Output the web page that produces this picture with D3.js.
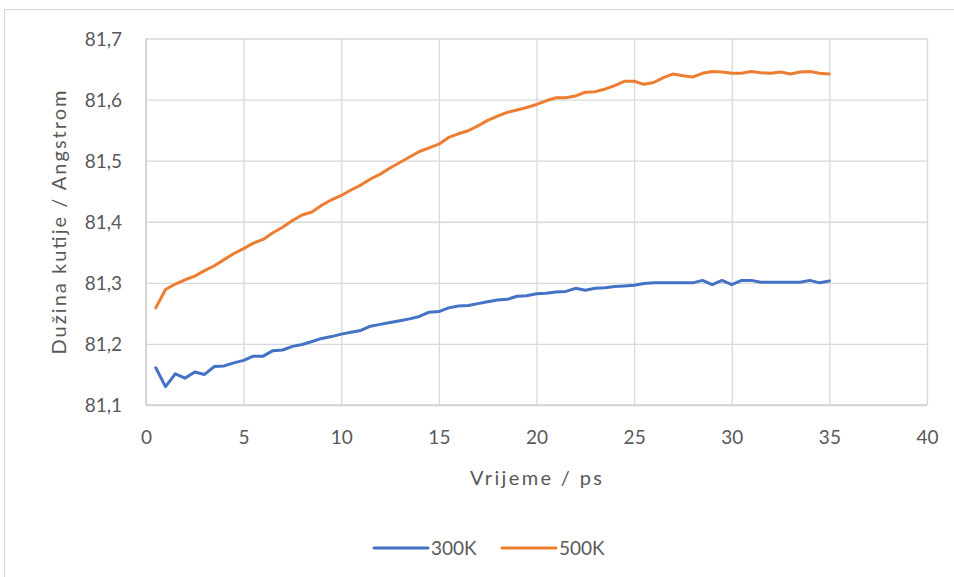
<!DOCTYPE html>
<html>
<head>
<meta charset="utf-8">
<script src="https://cdn.jsdelivr.net/npm/d3@7"></script>
<style>
  html, body { margin: 0; padding: 0; background: #fff; }
  svg { display: block; }
  text { font-family: Lato, "Open Sans", sans-serif; fill: #595959; }
</style>
</head>
<body>
<svg id="chart" width="954" height="577"></svg>
<script>
const time = [0.5,1,1.5,2,2.5,3,3.5,4,4.5,5,5.5,6,6.5,7,7.5,8,8.5,9,9.5,10,
  10.5,11,11.5,12,12.5,13,13.5,14,14.5,15,15.5,16,16.5,17,17.5,18,18.5,19,19.5,20,
  20.5,21,21.5,22,22.5,23,23.5,24,24.5,25,25.5,26,26.5,27,27.5,28,28.5,29,29.5,30,
  30.5,31,31.5,32,32.5,33,33.5,34,34.5,35];

const series300K = [81.161,81.130,81.151,81.144,81.154,81.150,81.163,81.164,81.169,81.173,
  81.180,81.180,81.189,81.190,81.196,81.199,81.204,81.209,81.212,81.216,
  81.219,81.222,81.229,81.232,81.235,81.238,81.241,81.245,81.252,81.253,
  81.259,81.262,81.263,81.266,81.269,81.272,81.273,81.278,81.279,81.282,
  81.283,81.285,81.286,81.291,81.288,81.291,81.292,81.294,81.295,81.296,
  81.299,81.300,81.300,81.300,81.300,81.300,81.304,81.297,81.304,81.297,
  81.304,81.304,81.301,81.301,81.301,81.301,81.301,81.304,81.300,81.303];

const series500K = [81.259,81.289,81.298,81.305,81.311,81.320,81.328,81.338,81.348,81.356,
  81.365,81.371,81.382,81.391,81.402,81.411,81.416,81.427,81.436,81.443,
  81.452,81.460,81.470,81.478,81.488,81.497,81.506,81.515,81.521,81.527,
  81.538,81.544,81.549,81.557,81.566,81.573,81.579,81.583,81.587,81.592,
  81.598,81.603,81.603,81.606,81.612,81.613,81.617,81.623,81.630,81.630,
  81.625,81.628,81.636,81.642,81.639,81.637,81.643,81.646,81.645,81.643,
  81.643,81.646,81.644,81.643,81.645,81.642,81.645,81.646,81.643,81.642];

const xTicks = [0,5,10,15,20,25,30,35,40];
const yTicks = [81.1,81.2,81.3,81.4,81.5,81.6,81.7];
const seriesNames = ["300K","500K"];
const seriesColors = ["#4472C4","#ED7D31"];
const xTitle = "Vrijeme / ps";
const yTitle = "Dužina kutije / Angstrom";

const svg = d3.select("#chart");

// outer chart frame
svg.append("rect")
  .attr("x", 4.5).attr("y", 9.5)
  .attr("width", 1000).attr("height", 700)
  .attr("fill", "#fff").attr("stroke", "#d9d9d9").attr("stroke-width", 1);

const x = d3.scaleLinear().domain([0, 40]).range([146, 927]);
const y = d3.scaleLinear().domain([81.1, 81.7]).range([405, 38.5]);

const fmt = d => d3.format(".1f")(d).replace(".", ",");

// gridlines
const gx = svg.append("g").attr("transform", "translate(0,405)")
  .call(d3.axisBottom(x).tickValues(xTicks).tickSize(-(405 - 38.5)).tickFormat(""));
gx.select(".domain").remove();
gx.selectAll("line").attr("stroke", "#d9d9d9").attr("stroke-width", 1.3);

const gy = svg.append("g").attr("transform", "translate(146,0)")
  .call(d3.axisLeft(y).tickValues(yTicks).tickSize(-(927 - 146)).tickFormat(""));
gy.select(".domain").remove();
gy.selectAll("line").attr("stroke", "#d9d9d9").attr("stroke-width", 1.3);

// axis lines
svg.append("line").attr("x1", 146).attr("x2", 927).attr("y1", y(81.1)).attr("y2", y(81.1))
  .attr("stroke", "#cfcfcf").attr("stroke-width", 1.5);
svg.append("line").attr("x1", 146).attr("x2", 146).attr("y1", y(81.1)).attr("y2", y(81.7))
  .attr("stroke", "#cfcfcf").attr("stroke-width", 1.5);

// tick labels
const xa = svg.append("g").attr("transform", "translate(0,405)")
  .call(d3.axisBottom(x).tickValues(xTicks).tickSize(0).tickPadding(0).tickFormat(d3.format("d")));
xa.select(".domain").remove();
xa.selectAll("text").attr("y", 32).attr("dy", "0.35em")
  .style("font-size", "19px").attr("fill", "#595959");

const ya = svg.append("g").attr("transform", "translate(146,0)")
  .call(d3.axisLeft(y).tickValues(yTicks).tickSize(0).tickPadding(0).tickFormat(fmt));
ya.select(".domain").remove();
ya.selectAll("text").attr("x", -24).attr("dy", "0.35em")
  .style("font-size", "19px").attr("fill", "#595959");

// lines
const line = d3.line()
  .x((d, i) => x(time[i]))
  .y(d => y(d));

[series300K, series500K].forEach((s, k) => {
  svg.append("path")
    .datum(s)
    .attr("d", line)
    .attr("fill", "none")
    .attr("stroke", seriesColors[k])
    .attr("stroke-width", 3)
    .attr("stroke-linejoin", "round")
    .attr("stroke-linecap", "round");
});

// axis titles
svg.append("text")
  .attr("x", 536).attr("y", 478).attr("dy", "0.35em")
  .attr("text-anchor", "middle")
  .attr("textLength", 132)
  .attr("lengthAdjust", "spacing")
  .style("font-size", "20px")
  .text(xTitle);

svg.append("text")
  .attr("transform", `translate(59,${(355 + 90) / 2}) rotate(-90)`)
  .attr("dy", "0.35em")
  .attr("text-anchor", "middle")
  .attr("textLength", 264)
  .attr("lengthAdjust", "spacing")
  .style("font-size", "20px")
  .text(yTitle);

// legend
const legendX = [374, 502];
seriesNames.forEach((name, k) => {
  const g = svg.append("g").attr("transform", `translate(${legendX[k]},548)`);
  g.append("line").attr("x1", 0).attr("x2", 54).attr("y1", 0).attr("y2", 0)
    .attr("stroke", seriesColors[k]).attr("stroke-width", 3).attr("stroke-linecap", "round");
  g.append("text").attr("x", 57).attr("dy", "0.35em")
    .style("font-size", "19px").text(name);
});
</script>
</body>
</html>
